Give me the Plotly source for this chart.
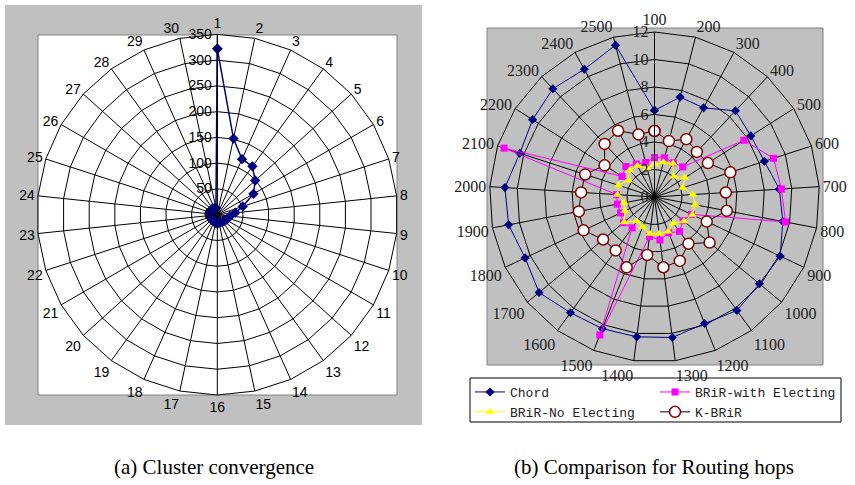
import plotly.graph_objects as go

W, H = 855, 485

# ---- Chart (a): cluster convergence ----
clusters = [str(i) for i in range(1, 31)]
cluster_vals = [322, 151, 118, 116, 99, 81, 52, 35, 25, 22, 20, 18, 17, 16, 16,
                17, 16, 15, 15, 14, 14, 14, 14, 14, 14, 15, 15, 15, 14, 13]
a_ticks = [0, 50, 100, 150, 200, 250, 300, 350]

# ---- Chart (b): routing hops ----
nodes = [str(v) for v in range(100, 2600, 100)]
chord = [6.3, 7.5, 7.4, 8.6, 8.3, 8.4, 9.1, 9.5, 10.1, 9.9, 10.2, 9.9, 10.3,
         10.25, 10.3, 10.4, 10.9, 10.4, 10.8, 10.9, 10.3, 10.5, 10.8, 10.6, 11.4]
brir_elect = [2.86, 2.95, 2.84, 3.0, 7.7, 9.1, 9.25, 9.7, 2.97, 2.7, 3.1, 2.8, 3.15,
              2.9, 10.8, 2.77, 2.94, 2.73, 2.75, 2.76, 11.5, 2.8, 3.04, 2.74, 2.6]
brir_noelect = [2.38, 2.6, 2.79, 2.05, 2.6, 2.17, 2.8, 3.0, 3.04, 2.78, 2.35, 2.7, 2.7,
                2.7, 2.35, 2.17, 2.87, 2.38, 2.25, 2.7, 2.76, 2.25, 2.65, 2.6, 2.16]
kbrir = [4.8, 4.2, 4.8, 4.5, 4.6, 5.8, 5.2, 5.35, 4.2, 5.2, 4.2, 5.0, 5.15, 4.25,
         5.5, 4.8, 4.85, 5.7, 5.6, 5.35, 5.3, 4.3, 5.3, 5.5, 4.7]
b_ticks = [0, 2, 4, 6, 8, 10, 12]


def closed(vals):
    return list(vals) + [vals[0]]


def px(x):
    return x / W


def py(y):
    return 1 - y / H


fig = go.Figure()

fig.add_trace(go.Scatterpolar(
    r=closed(cluster_vals), theta=closed(clusters), subplot="polar",
    mode="lines+markers", line=dict(color="#000080", width=1.5),
    marker=dict(symbol="diamond", size=8, color="#000080"), showlegend=False))

fig.add_trace(go.Scatterpolar(
    r=closed(chord), theta=closed(nodes), subplot="polar2", name="Chord", legend="legend",
    mode="lines+markers", line=dict(color="#000080", width=1),
    marker=dict(symbol="diamond", size=7, color="#000080")))
fig.add_trace(go.Scatterpolar(
    r=closed(brir_elect), theta=closed(nodes), subplot="polar2", name="BRiR-with Electing",
    legend="legend2",
    mode="lines+markers", line=dict(color="#FF00FF", width=1),
    marker=dict(symbol="square", size=7, color="#FF00FF")))
fig.add_trace(go.Scatterpolar(
    r=closed(brir_noelect), theta=closed(nodes), subplot="polar2", name="BRiR-No Electing",
    legend="legend",
    mode="lines+markers", line=dict(color="#FFFF00", width=1),
    marker=dict(symbol="triangle-up", size=8, color="#FFFF00")))
fig.add_trace(go.Scatterpolar(
    r=closed(kbrir), theta=closed(nodes), subplot="polar2", name="K-BRiR", legend="legend2",
    mode="lines+markers", line=dict(color="#000000", width=1),
    marker=dict(symbol="circle", size=11, color="#FFFFFF",
                line=dict(color="#800000", width=1.5))))

sans = "Liberation Sans, Arial, sans-serif"
serif = "Liberation Serif, Times New Roman, serif"
mono = dict(family="Liberation Mono, monospace", size=13, color="#222")

fig.update_layout(
    width=W, height=H, margin=dict(l=0, r=0, t=0, b=0),
    paper_bgcolor="white",
    polar=dict(
        domain=dict(x=[px(37), px(397.6)], y=[py(395), py(34.4)]),
        bgcolor="white", gridshape="linear",
        angularaxis=dict(type="category", direction="clockwise", rotation=90,
                         categoryarray=clusters, categoryorder="array",
                         gridcolor="black", linecolor="black", linewidth=1,
                         showline=True, ticks="", tickfont=dict(family=sans, size=14, color="black")),
        radialaxis=dict(range=[0, 350], tickvals=a_ticks, angle=90, side="counterclockwise",
                        tickangle=90,
                        gridcolor="black", linecolor="black", showline=True, ticks="",
                        tickfont=dict(family=sans, size=14, color="black")),
    ),
    polar2=dict(
        domain=dict(x=[px(489.5), px(819.5)], y=[py(362), py(32)]),
        bgcolor="#C0C0C0", gridshape="linear",
        angularaxis=dict(type="category", direction="clockwise", rotation=90,
                         categoryarray=nodes, categoryorder="array",
                         gridcolor="black", linecolor="black", linewidth=1,
                         showline=True, ticks="", tickfont=dict(family=serif, size=16, color="#222")),
        radialaxis=dict(range=[0, 12], tickvals=b_ticks, angle=90, side="counterclockwise",
                        tickangle=90,
                        gridcolor="black", linecolor="black", showline=True, ticks="",
                        tickfont=dict(family=serif, size=16, color="#222")),
    ),
    legend=dict(orientation="v", x=px(470), y=py(377), xanchor="left", yanchor="top",
                borderwidth=0, bgcolor="rgba(0,0,0,0)", itemwidth=30, tracegroupgap=0,
                font=mono),
    legend2=dict(orientation="v", x=px(655), y=py(377), xanchor="left", yanchor="top",
                 borderwidth=0, bgcolor="rgba(0,0,0,0)", itemwidth=30, tracegroupgap=0,
                 font=mono),
    shapes=[
        dict(type="rect", xref="paper", yref="paper", x0=px(5), x1=px(422), y0=py(425), y1=py(5),
             fillcolor="#C0C0C0", line=dict(width=0), layer="below"),
        dict(type="rect", xref="paper", yref="paper", x0=px(38), x1=px(397), y0=py(395), y1=py(35),
             fillcolor="white", line=dict(color="#808080", width=1), layer="below"),
        dict(type="rect", xref="paper", yref="paper", x0=px(487), x1=px(823), y0=py(365), y1=py(28),
             fillcolor="#C0C0C0", line=dict(color="#808080", width=1), layer="below"),
        dict(type="rect", xref="paper", yref="paper", x0=px(470), x1=px(841), y0=py(422), y1=py(378),
             fillcolor="white", line=dict(color="black", width=1), layer="below"),
    ],
    annotations=[
        dict(text="(a) Cluster convergence", x=px(214), y=py(467), xref="paper", yref="paper",
             xanchor="center", yanchor="middle",
             showarrow=False, font=dict(family=serif, size=21, color="black")),
        dict(text="(b) Comparison for Routing hops", x=px(654), y=py(467), xref="paper", yref="paper",
             xanchor="center", yanchor="middle",
             showarrow=False, font=dict(family=serif, size=21, color="black")),
    ],
)

fig.write_html("out.html")
